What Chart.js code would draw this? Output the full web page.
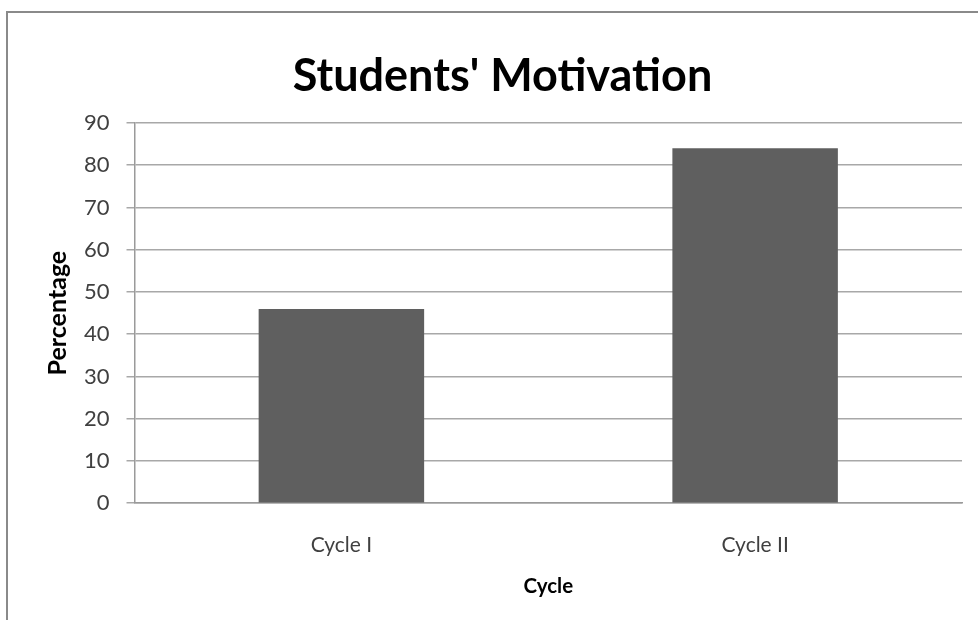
<!DOCTYPE html>
<html>
<head>
<meta charset="utf-8">
<script src="https://cdn.jsdelivr.net/npm/chart.js@4/dist/chart.umd.min.js"></script>
<style>
  html, body { margin: 0; padding: 0; background: #fff; }
  #wrap { position: relative; width: 978px; height: 620px; }
  #frame { position: absolute; left: 6px; top: 11px; width: 1000px; height: 700px; border-left: 2px solid #8a8a8a; border-top: 2px solid #8a8a8a; }
  canvas { position: absolute; left: 0; top: 0; }
</style>
</head>
<body>
<div id="wrap">
  <div id="frame"></div>
  <canvas id="c" width="978" height="620"></canvas>
</div>
<script>
const categories = ["Cycle I", "Cycle II"];
const motivation = [46, 84];
const yTicks = [0, 10, 20, 30, 40, 50, 60, 70, 80, 90];

const FONT = "Lato, 'Open Sans', sans-serif";
new Chart(document.getElementById('c'), {
  type: 'bar',
  data: {
    labels: categories,
    datasets: [{
      label: 'Percentage',
      data: motivation,
      backgroundColor: '#5f5f5f',
      borderWidth: 0,
      barPercentage: 0.4,
      categoryPercentage: 1.0
    }]
  },
  options: {
    responsive: false,
    animation: false,
    devicePixelRatio: 1,
    layout: { padding: { left: 43, right: 16, top: 0, bottom: 21 } },
    plugins: {
      legend: { display: false },
      tooltip: { enabled: false },
      title: {
        display: true,
        text: "Students' Motivation",
        color: '#000',
        font: { family: FONT, size: 45, weight: 'bold' },
        padding: { top: 49, bottom: 20 }
      }
    },
    scales: {
      x: {
        grid: { display: false },
        border: { display: true, color: '#9a9a9a', width: 1.5 },
        ticks: { color: '#404040', font: { family: FONT, size: 21 }, padding: 21 },
        title: { display: true, text: 'Cycle', color: '#000', font: { family: FONT, size: 20.5, weight: 'bold' }, padding: { top: -4, bottom: 0 } }
      },
      y: {
        min: 0, max: 90,
        afterBuildTicks: (axis) => { axis.ticks = yTicks.map(v => ({ value: v })); },
        grid: { color: '#a8a8a8', lineWidth: 1.5, tickLength: 8, drawTicks: true },
        border: { display: true, color: '#9a9a9a', width: 1.5 },
        ticks: { color: '#404040', font: { family: FONT, size: 22 }, padding: 17 },
        title: { display: true, text: 'Percentage', color: '#000', font: { family: FONT, size: 25, weight: 'bold' }, padding: { top: 0, bottom: -6 } }
      }
    }
  }
});
</script>
</body>
</html>
